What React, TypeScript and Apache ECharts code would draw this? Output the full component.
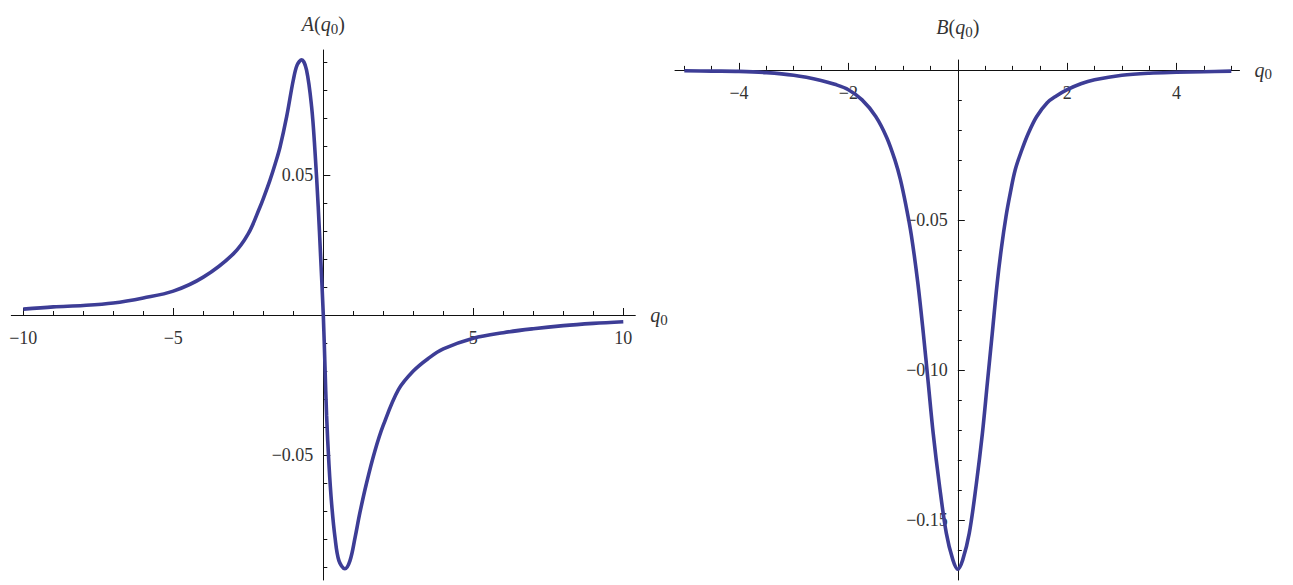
import React, { useEffect, useRef } from "react";
import * as echarts from "echarts";

// ---- Data ----
// A(q0): left panel
const aQ = [-10, -9, -8, -7, -6, -5, -4, -3, -2.5, -2.11, -2.0, -1.78, -1.6, -1.44, -1.22, -1.0, -0.87, -0.72, -0.56, -0.39, -0.28, -0.17, -0.09, 0,
  0.056, 0.11, 0.19, 0.28, 0.39, 0.52, 0.72, 0.89, 1.06, 1.22, 1.44, 1.72, 2.0, 2.5, 3.0, 3.5, 4.0, 5.0, 6.0, 7.0, 8.0, 9.0, 10.0];
const aVal = [0.0021, 0.0029, 0.0034, 0.0043, 0.0061, 0.0085, 0.0135, 0.0218, 0.029, 0.0385, 0.0415, 0.048, 0.054, 0.060, 0.0708, 0.0838, 0.0892, 0.0910, 0.0874, 0.0743, 0.0589, 0.0387, 0.021, 0,
  -0.0183, -0.0359, -0.0535, -0.0676, -0.0793, -0.0876, -0.0905, -0.0876, -0.0793, -0.0705, -0.0600, -0.0485, -0.0393, -0.0267, -0.0200, -0.0155, -0.0121, -0.0083, -0.0063, -0.0049, -0.0038, -0.0030, -0.0024];

// B(q0): right panel
const bQ = [-5.0, -4.5, -4.0, -3.5, -3.0, -2.5, -2.25, -2.0, -1.75, -1.5, -1.3, -1.15, -1.05, -0.95, -0.85, -0.73, -0.63, -0.54, -0.45, -0.34, -0.21, -0.09, 0,
  0.09, 0.21, 0.34, 0.45, 0.54, 0.63, 0.72, 0.80, 0.88, 0.96, 1.05, 1.17, 1.29, 1.44, 1.63, 1.8, 2.0, 2.25, 2.5, 3.0, 3.5, 4.0, 4.5, 5.0];
const bVal = [-0.0003, -0.0004, -0.0005, -0.0009, -0.0018, -0.0035, -0.0048, -0.0066, -0.0100, -0.0155, -0.0225, -0.030, -0.0365, -0.045, -0.055, -0.0711, -0.0878, -0.1044, -0.1211, -0.1378, -0.1544, -0.1633, -0.1664,
  -0.1633, -0.1544, -0.1378, -0.1211, -0.1044, -0.0878, -0.0711, -0.0590, -0.0490, -0.0410, -0.0333, -0.0267, -0.0211, -0.0156, -0.0110, -0.0087, -0.0066, -0.0046, -0.0033, -0.0018, -0.0011, -0.0008, -0.0006, -0.0004];

// Tick values and labels
const aXMajor = [-10, -5, 5, 10];
const aXMinor = [-9, -8, -7, -6, -4, -3, -2, -1, 1, 2, 3, 4, 6, 7, 8, 9];
const aYMajor = [-0.05, 0.05];
const aYMinor = [-0.09, -0.08, -0.07, -0.06, -0.04, -0.03, -0.02, -0.01, 0.01, 0.02, 0.03, 0.04, 0.06, 0.07, 0.08, 0.09];
const bXMajor = [-4, -2, 2, 4];
const bXMinor = [-5, -4.5, -3.5, -3, -2.5, -1.5, -1, -0.5, 0.5, 1, 1.5, 2.5, 3, 3.5, 4.5, 5];
const bYMajor = [-0.15, -0.1, -0.05];
const bYMinor = [-0.16, -0.14, -0.13, -0.12, -0.11, -0.09, -0.08, -0.07, -0.06, -0.04, -0.03, -0.02, -0.01];

// Axis ranges
const aXRange = [-10.4, 10.4];
const aYRange = [-0.0945, 0.0945];
const bXRange = [-5.17, 5.15];
const bYRange = [-0.17, 0.0033];

const FONT = "Liberation Serif";
const LINE = "#111";
const LABEL = "#333";
const CURVE = "#3d3d96";

const GRID_A = { left: 11.3, top: 50, width: 624, height: 530 };
const GRID_B = { left: 675, top: 60, width: 564.5, height: 520 };

const rich = {
  it: { fontFamily: FONT, fontStyle: "italic", fontSize: 20, color: "#333", lineHeight: 24, verticalAlign: "middle" },
  n: { fontFamily: FONT, fontSize: 20, color: "#333", lineHeight: 24, verticalAlign: "middle" },
  sub: { fontFamily: FONT, fontSize: 15, color: "#333", lineHeight: 15, verticalAlign: "bottom" },
};

const fmtX = (v: number) => (v < 0 ? "\u2212" : "") + String(Math.abs(v));
const fmtY = (v: number) => (v < 0 ? "\u2212" : "") + Math.abs(v).toFixed(2);

// offset that puts an axis where the other axis is zero
const zeroOffset = (range: number[], size: number) => -size * (0 - range[0]) / (range[1] - range[0]);

function xAxisOf(grid: number, range: number[], ticks: number[], offset: number, major: boolean) {
  return {
    type: "value", gridIndex: grid, min: range[0], max: range[1], position: "bottom", offset,
    axisLine: { show: major, onZero: false, lineStyle: { color: LINE, width: 1 } },
    axisTick: { show: true, inside: true, length: major ? 7 : 4, customValues: ticks, lineStyle: { color: LINE, width: 1 } },
    axisLabel: major
      ? { show: true, customValues: ticks, formatter: fmtX, fontFamily: FONT, fontSize: 18, color: LABEL, margin: 14 }
      : { show: false },
    splitLine: { show: false },
    ...(major
      ? { name: "{it|q}{sub|0}", nameLocation: "end", nameGap: 15, nameTextStyle: { rich, align: "left", verticalAlign: "middle" } }
      : {}),
  };
}
function yAxisOf(grid: number, range: number[], ticks: number[], offset: number, major: boolean, letter: string, gap: number) {
  return {
    type: "value", gridIndex: grid, min: range[0], max: range[1], position: "left", offset,
    axisLine: { show: major, onZero: false, lineStyle: { color: LINE, width: 1 } },
    axisTick: { show: true, inside: true, length: major ? 7 : 4, customValues: ticks, lineStyle: { color: LINE, width: 1 } },
    axisLabel: major
      ? { show: true, customValues: ticks, formatter: fmtY, fontFamily: FONT, fontSize: 18, color: LABEL, margin: 10 }
      : { show: false },
    splitLine: { show: false },
    ...(major
      ? { name: "{it|" + letter + "}{n|(}{it|q}{sub|0}{n|)}", nameLocation: "end", nameGap: gap, nameTextStyle: { rich } }
      : {}),
  };
}

export default function App() {
  const ref = useRef<HTMLDivElement>(null);
  useEffect(() => {
    if (!ref.current) return;
    const chart = echarts.init(ref.current, undefined, { renderer: "svg" });
    const aData = aQ.map((q, i) => [q, aVal[i]]);
    const bData = bQ.map((q, i) => [q, bVal[i]]);
    const axA = zeroOffset(aYRange, GRID_A.height);
    const ayA = zeroOffset(aXRange, GRID_A.width);
    const axB = zeroOffset(bYRange, GRID_B.height);
    const ayB = zeroOffset(bXRange, GRID_B.width);
    chart.setOption({
      animation: false,
      backgroundColor: "#fff",
      grid: [
        { ...GRID_A, containLabel: false, outerBoundsMode: "none" },
        { ...GRID_B, containLabel: false, outerBoundsMode: "none" },
      ],
      xAxis: [
        xAxisOf(0, aXRange, aXMajor, axA, true),
        xAxisOf(0, aXRange, aXMinor, axA, false),
        xAxisOf(1, bXRange, bXMajor, axB, true),
        xAxisOf(1, bXRange, bXMinor, axB, false),
      ],
      yAxis: [
        yAxisOf(0, aYRange, aYMajor, ayA, true, "A", 14),
        yAxisOf(0, aYRange, aYMinor, ayA, false, "A", 14),
        yAxisOf(1, bYRange, bYMajor, ayB, true, "B", 21),
        yAxisOf(1, bYRange, bYMinor, ayB, false, "B", 21),
      ],
      series: [
        {
          type: "line", xAxisIndex: 0, yAxisIndex: 0, data: aData, showSymbol: false, smooth: 0.35,
          lineStyle: { color: CURVE, width: 3.6 }, itemStyle: { color: CURVE }, clip: false,
        },
        {
          type: "line", xAxisIndex: 2, yAxisIndex: 2, data: bData, showSymbol: false, smooth: 0.35,
          lineStyle: { color: CURVE, width: 3.6 }, itemStyle: { color: CURVE }, clip: false,
        },
      ],
    });
    return () => chart.dispose();
  }, []);
  return (
    <div
      ref={ref}
      style={{ position: "fixed", left: 0, top: 0, width: 1293, height: 585, background: "#fff" }}
    />
  );
}
